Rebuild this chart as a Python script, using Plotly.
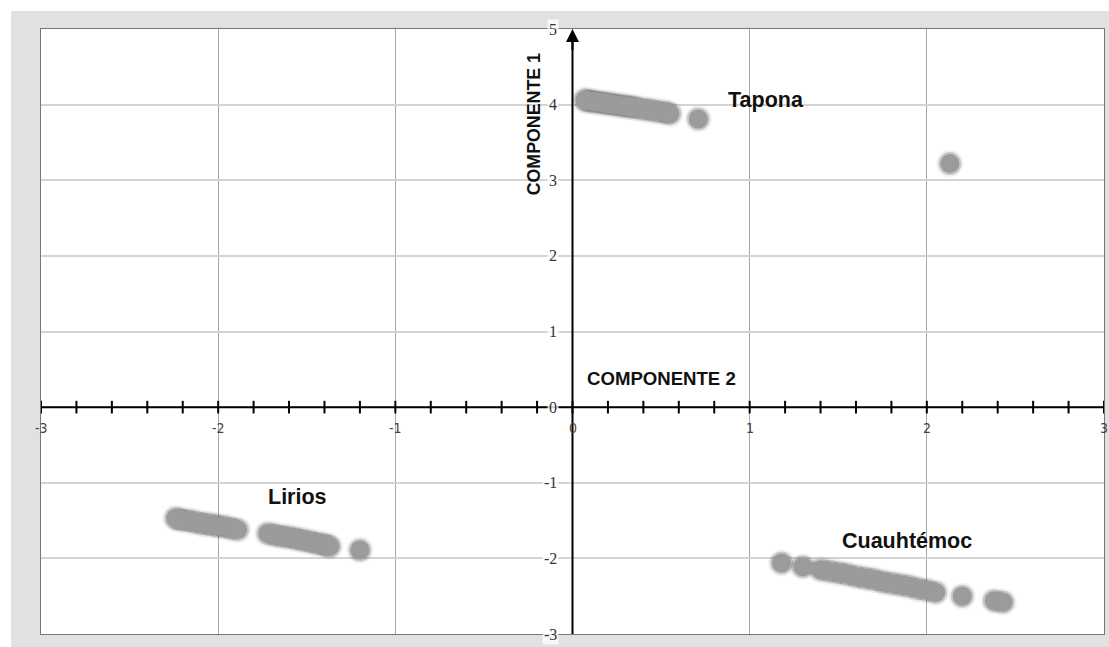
import plotly.graph_objects as go

# ---- data ----
tapona_x = [0.07, 0.09, 0.12, 0.15, 0.18, 0.21, 0.24, 0.27, 0.30, 0.33, 0.36, 0.40, 0.44, 0.48, 0.52, 0.55, 0.71, 2.13]
tapona_y = [4.06, 4.05, 4.04, 4.03, 4.02, 4.01, 4.00, 3.99, 3.98, 3.97, 3.96, 3.94, 3.93, 3.91, 3.90, 3.88, 3.81, 3.22]

lirios_x = [-2.24, -2.21, -2.17, -2.13, -2.09, -2.05, -2.01, -1.97, -1.93, -1.89,
            -1.72, -1.68, -1.64, -1.60, -1.56, -1.52, -1.48, -1.44, -1.40, -1.37, -1.20]
lirios_y = [-1.47, -1.49, -1.50, -1.52, -1.54, -1.55, -1.57, -1.58, -1.60, -1.62,
            -1.67, -1.69, -1.71, -1.72, -1.74, -1.76, -1.78, -1.80, -1.82, -1.84, -1.89]

cuau_x = [1.18, 1.30, 1.40, 1.45, 1.50, 1.55, 1.60, 1.65, 1.70, 1.75, 1.80, 1.85, 1.90, 1.95, 2.00, 2.05, 2.20, 2.38, 2.43]
cuau_y = [-2.06, -2.11, -2.15, -2.17, -2.19, -2.21, -2.24, -2.26, -2.28, -2.31, -2.33, -2.35, -2.37, -2.40, -2.42, -2.45, -2.50, -2.56, -2.58]

groups = ["Tapona", "Lirios", "Cuauhtémoc"]
label_x = [1.09, -1.555, 1.888]
label_y = [4.06, -1.19, -1.77]

x_ticks = [-3, -2, -1, 0, 1, 2, 3]
y_ticks = [5, 4, 3, 2, 1, 0, -1, -2, -3]
x_minor = [round(-3 + 0.2 * i, 1) for i in range(31)]

X_RANGE = [-3, 3]
Y_RANGE = [-3, 5]

fig = go.Figure()

# axis minor tick marks on the x axis line
fig.add_trace(go.Scatter(x=x_minor, y=[0] * len(x_minor), mode="markers",
                         marker=dict(symbol="line-ns-open", size=9, color="black",
                                     line=dict(color="black", width=2)),
                         hoverinfo="skip", showlegend=False))

all_x = [tapona_x, lirios_x, cuau_x]
all_y = [tapona_y, lirios_y, cuau_y]
for xs, ys in zip(all_x, all_y):
    # soft halo
    fig.add_trace(go.Scatter(x=xs, y=ys, mode="markers",
                             marker=dict(size=27, color="rgba(120,120,120,0.10)", line=dict(width=0)),
                             hoverinfo="skip", showlegend=False))
    fig.add_trace(go.Scatter(x=xs, y=ys, mode="markers",
                             marker=dict(size=23, color="rgba(50,50,50,0.22)", line=dict(width=0)),
                             hoverinfo="skip", showlegend=False))
for xs, ys in zip(all_x, all_y):
    fig.add_trace(go.Scatter(x=xs, y=ys, mode="markers",
                             marker=dict(size=19, color="#9b9b9b", line=dict(width=0)),
                             showlegend=False))

annotations = []
for g, lx, ly in zip(groups, label_x, label_y):
    annotations.append(dict(x=lx, y=ly, text="<b>" + g + "</b>", showarrow=False,
                            font=dict(family="Liberation Sans", size=21.5, color="#111"),
                            xanchor="center", yanchor="middle"))

annotations.append(dict(x=-0.217, y=3.74, text="<b>COMPONENTE 1</b>", textangle=-90, showarrow=False,
                        font=dict(family="Liberation Sans", size=17.8, color="#111")))
annotations.append(dict(x=0.505, y=0.38, text="<b>COMPONENTE 2</b>", showarrow=False,
                        font=dict(family="Liberation Sans", size=18.6, color="#111")))

for t in x_ticks:
    annotations.append(dict(x=t, y=0, text=str(t), showarrow=False, yshift=-21,
                            font=dict(family="DejaVu Sans Condensed, Liberation Sans", size=14, color="#444"),
                            xanchor="center", yanchor="middle"))
for t in y_ticks:
    annotations.append(dict(x=0, y=t, text=str(t), showarrow=False, xshift=-14,
                            font=dict(family="Liberation Serif", size=16, color="#333"),
                            xanchor="right", yanchor="middle", bgcolor="rgba(255,255,255,0.8)"))

# arrow at top of y axis
annotations.append(dict(x=0, y=Y_RANGE[1], ax=0, ay=Y_RANGE[1] - 0.3, axref="x", ayref="y",
                        xref="x", yref="y", showarrow=True, arrowhead=2, arrowsize=1.3,
                        arrowwidth=2, arrowcolor="black", text=""))

shapes = [
    # white strips outside the gray frame
    dict(type="rect", xref="paper", yref="paper", x0=-0.05, x1=(11 - 41) / 1063, y0=-0.1, y1=1.1,
         fillcolor="white", line=dict(width=0), layer="below"),
    dict(type="rect", xref="paper", yref="paper", x0=-0.05, x1=1.05, y0=1 + (29 - 11) / 605, y1=1.1,
         fillcolor="white", line=dict(width=0), layer="below"),
    # axes through origin
    dict(type="line", xref="x", yref="y", x0=X_RANGE[0], x1=X_RANGE[1], y0=0, y1=0,
         line=dict(color="black", width=2)),
    dict(type="line", xref="x", yref="y", x0=0, x1=0, y0=Y_RANGE[0], y1=Y_RANGE[1] - 0.1,
         line=dict(color="black", width=2)),
]

fig.update_layout(
    width=1109, height=647,
    margin=dict(l=41, r=5, t=29, b=13),
    paper_bgcolor="#e1e1e1",
    plot_bgcolor="white",
    showlegend=False,
    annotations=annotations,
    shapes=shapes,
    xaxis=dict(range=X_RANGE, dtick=1, showgrid=True, gridcolor="#a8a8a8", gridwidth=1,
               zeroline=False, showticklabels=False, ticks="",
               showline=True, linecolor="#777", linewidth=1, mirror=True),
    yaxis=dict(range=Y_RANGE, dtick=1, showgrid=True, gridcolor="#d4d4d4", gridwidth=2,
               zeroline=False, showticklabels=False, ticks="",
               showline=True, linecolor="#777", linewidth=1, mirror=True),
)

fig.write_html("out.html", config={"displayModeBar": False},
               post_script="document.body.style.margin='0';document.body.style.overflow='hidden';")
